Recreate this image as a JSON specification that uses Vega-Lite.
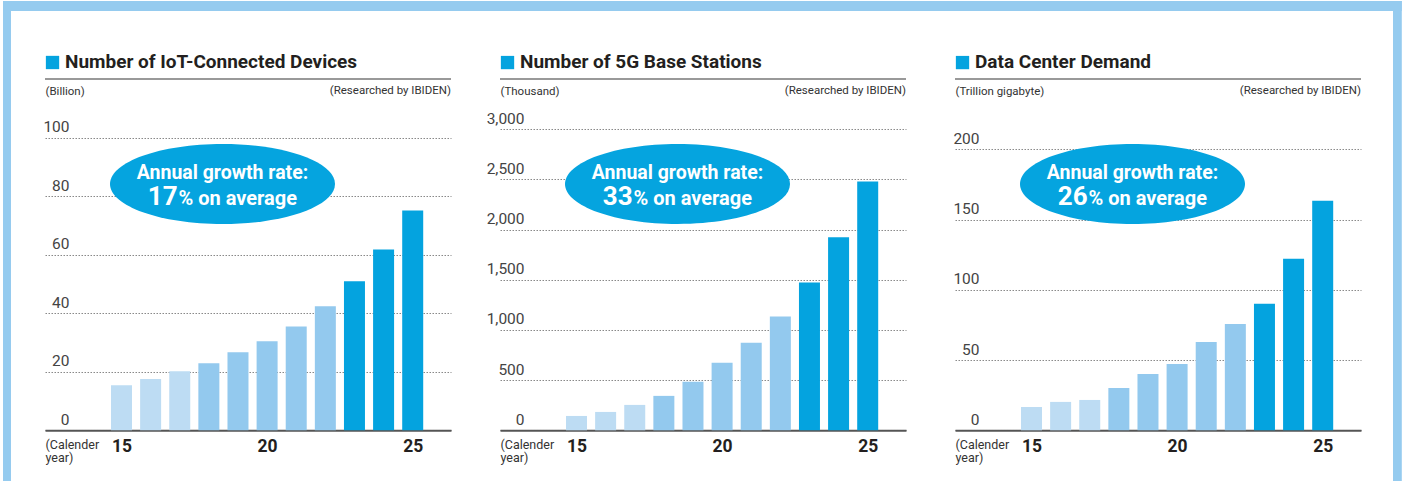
{
  "$schema": "https://vega.github.io/schema/vega-lite/v6.json",
  "background": "white",
  "padding": {"left": 3, "top": 0, "right": 0, "bottom": 0},
  "bounds": "flush",
  "spacing": 49,
  "config": {
    "view": {"stroke": null},
    "font": "Roboto",
    "axis": {"labelFont": "Roboto", "titleFont": "Roboto"},
    "text": {"font": "Roboto"}
  },
  "hconcat": [
    {
      "width": 406,
      "height": 351.3,
      "layer": [
        {
          "data": {"values": [
            {"year": 15, "value": 15.4, "stage": "a"},
            {"year": 16, "value": 17.5, "stage": "a"},
            {"year": 17, "value": 20.2, "stage": "a"},
            {"year": 18, "value": 22.9, "stage": "b"},
            {"year": 19, "value": 26.7, "stage": "b"},
            {"year": 20, "value": 30.4, "stage": "b"},
            {"year": 21, "value": 35.5, "stage": "b"},
            {"year": 22, "value": 42.4, "stage": "b"},
            {"year": 23, "value": 50.9, "stage": "c"},
            {"year": 24, "value": 61.8, "stage": "c"},
            {"year": 25, "value": 75.1, "stage": "c"}
          ]},
          "mark": {"type": "bar", "width": 21},
          "encoding": {
            "x": {"field": "year", "type": "quantitative", "scale": {"domain": [12.373, 26.315], "nice": false, "zero": false, "padding": 0},
              "axis": {"values": [15, 20, 25], "labelExpr": "format(datum.value, 'd')", "grid": false, "ticks": false, "tickSize": 0, "domainColor": "#555", "domainWidth": 2, "labelFontSize": 17.5, "labelFontWeight": "bold", "labelColor": "#231f20", "labelPadding": 7, "labelFlush": false,
                "title": ["(Calender", "year)"], "titleX": 0, "titleY": 8, "titleAlign": "left", "titleBaseline": "top", "titleFontSize": 12.5, "titleFontWeight": "normal", "titleColor": "#333", "titleLineHeight": 13.5}},
            "y": {"field": "value", "type": "quantitative", "scale": {"domain": [0, 120.06], "nice": false},
              "axis": {"values": [0, 20, 40, 60, 80, 100], "labelExpr": "format(datum.value, ',')", "grid": true, "gridDash": [1.5, 1.5], "gridColor": "#888", "domain": false, "ticks": false, "tickSize": 0, "labelAlign": "right", "labelPadding": -24, "labelBaseline": "alphabetic", "labelOffset": -6, "labelFontSize": 15.5, "labelColor": "#444",
                "title": "(Billion)", "titleX": 0, "titleY": 15.5, "titleAngle": 0, "titleAlign": "left", "titleBaseline": "alphabetic", "titleFontSize": 11.5, "titleFontWeight": "normal", "titleColor": "#333"}},
            "color": {"field": "stage", "type": "nominal", "scale": {"domain": ["a", "b", "c"], "range": ["#bddcf3", "#93c9ee", "#04a3df"]}, "legend": null}
          }
        },
        {
          "data": {"values": [{"title": "Number of IoT-Connected Devices", "note": "(Researched by IBIDEN)", "line1": "Annual growth rate:", "rate": "17", "rest": "% on average"}]},
          "layer": [
            {"mark": {"type": "rule", "color": "#777", "strokeWidth": 1.5}, "encoding": {"y": {"datum": 120.06}}},
            {"mark": {"type": "text", "align": "left", "baseline": "alphabetic", "fontSize": 19, "fontWeight": "bold", "color": "#231f20"}, "encoding": {"x": {"datum": 13.06}, "y": {"datum": 123.7}, "text": {"field": "title"}}},
            {"mark": {"type": "text", "align": "right", "baseline": "alphabetic", "fontSize": 11.5, "color": "#333"}, "encoding": {"x": {"datum": 26.315}, "y": {"datum": 114.8}, "text": {"field": "note"}}},
            {"mark": {"type": "point", "shape": "square", "filled": true, "opacity": 1, "size": 177, "color": "#04a3df"}, "encoding": {"x": {"datum": 12.631}, "y": {"datum": 125.7}}},
            {"mark": {"type": "point", "shape": "M-1,0A1,0.3556,0,1,1,1,0A1,0.3556,0,1,1,-1,0Z", "filled": true, "opacity": 1, "size": 50625, "color": "#05a4df"}, "encoding": {"x": {"datum": 18.468}, "y": {"datum": 84.18}}},
            {"mark": {"type": "text", "align": "center", "baseline": "alphabetic", "fontSize": 19.5, "fontWeight": "bold", "color": "white"}, "encoding": {"x": {"datum": 18.468}, "y": {"datum": 85.78}, "text": {"field": "line1"}}},
            {"mark": {"type": "text", "align": "right", "baseline": "alphabetic", "fontSize": 26, "fontWeight": "bold", "color": "white"}, "encoding": {"x": {"datum": 16.927}, "y": {"datum": 76.9}, "text": {"field": "rate"}}},
            {"mark": {"type": "text", "align": "left", "baseline": "alphabetic", "fontSize": 20, "fontWeight": "bold", "color": "white"}, "encoding": {"x": {"datum": 16.96}, "y": {"datum": 76.9}, "text": {"field": "rest"}}},
            {"mark": {"type": "rect", "color": "#95cbef", "opacity": 1}, "encoding": {"x": {"datum": 10.931}, "x2": {"datum": 11.205}, "y": {"datum": 146.72}, "y2": {"datum": -17.55}}},
            {"mark": {"type": "rect", "color": "#95cbef", "opacity": 1}, "encoding": {"x": {"datum": 10.931}, "x2": {"datum": 27.311}, "y": {"datum": 146.72}, "y2": {"datum": 143.3}}}
          ]
        }
      ]
    },
    {
      "width": 406,
      "height": 351.3,
      "layer": [
        {
          "data": {"values": [
            {"year": 15, "value": 143, "stage": "a"},
            {"year": 16, "value": 183, "stage": "a"},
            {"year": 17, "value": 253, "stage": "a"},
            {"year": 18, "value": 343, "stage": "b"},
            {"year": 19, "value": 483, "stage": "b"},
            {"year": 20, "value": 673, "stage": "b"},
            {"year": 21, "value": 873, "stage": "b"},
            {"year": 22, "value": 1133, "stage": "b"},
            {"year": 23, "value": 1473, "stage": "c"},
            {"year": 24, "value": 1923, "stage": "c"},
            {"year": 25, "value": 2480, "stage": "c"}
          ]},
          "mark": {"type": "bar", "width": 21},
          "encoding": {
            "x": {"field": "year", "type": "quantitative", "scale": {"domain": [12.373, 26.315], "nice": false, "zero": false, "padding": 0},
              "axis": {"values": [15, 20, 25], "labelExpr": "format(datum.value, 'd')", "grid": false, "ticks": false, "tickSize": 0, "domainColor": "#555", "domainWidth": 2, "labelFontSize": 17.5, "labelFontWeight": "bold", "labelColor": "#231f20", "labelPadding": 7, "labelFlush": false,
                "title": ["(Calender", "year)"], "titleX": 0, "titleY": 8, "titleAlign": "left", "titleBaseline": "top", "titleFontSize": 12.5, "titleFontWeight": "normal", "titleColor": "#333", "titleLineHeight": 13.5}},
            "y": {"field": "value", "type": "quantitative", "scale": {"domain": [0, 3501], "nice": false},
              "axis": {"values": [0, 500, 1000, 1500, 2000, 2500, 3000], "labelExpr": "format(datum.value, ',')", "grid": true, "gridDash": [1.5, 1.5], "gridColor": "#888", "domain": false, "ticks": false, "tickSize": 0, "labelAlign": "right", "labelPadding": -24, "labelBaseline": "alphabetic", "labelOffset": -6, "labelFontSize": 15.5, "labelColor": "#444",
                "title": "(Thousand)", "titleX": 0, "titleY": 15.5, "titleAngle": 0, "titleAlign": "left", "titleBaseline": "alphabetic", "titleFontSize": 11.5, "titleFontWeight": "normal", "titleColor": "#333"}},
            "color": {"field": "stage", "type": "nominal", "scale": {"domain": ["a", "b", "c"], "range": ["#bddcf3", "#93c9ee", "#04a3df"]}, "legend": null}
          }
        },
        {
          "data": {"values": [{"title": "Number of 5G Base Stations", "note": "(Researched by IBIDEN)", "line1": "Annual growth rate:", "rate": "33", "rest": "% on average"}]},
          "layer": [
            {"mark": {"type": "rule", "color": "#777", "strokeWidth": 1.5}, "encoding": {"y": {"datum": 3501}}},
            {"mark": {"type": "text", "align": "left", "baseline": "alphabetic", "fontSize": 19, "fontWeight": "bold", "color": "#231f20"}, "encoding": {"x": {"datum": 13.06}, "y": {"datum": 3608}, "text": {"field": "title"}}},
            {"mark": {"type": "text", "align": "right", "baseline": "alphabetic", "fontSize": 11.5, "color": "#333"}, "encoding": {"x": {"datum": 26.315}, "y": {"datum": 3347}, "text": {"field": "note"}}},
            {"mark": {"type": "point", "shape": "square", "filled": true, "opacity": 1, "size": 177, "color": "#04a3df"}, "encoding": {"x": {"datum": 12.631}, "y": {"datum": 3665}}},
            {"mark": {"type": "point", "shape": "M-1,0A1,0.3556,0,1,1,1,0A1,0.3556,0,1,1,-1,0Z", "filled": true, "opacity": 1, "size": 50625, "color": "#05a4df"}, "encoding": {"x": {"datum": 18.468}, "y": {"datum": 2455}}},
            {"mark": {"type": "text", "align": "center", "baseline": "alphabetic", "fontSize": 19.5, "fontWeight": "bold", "color": "white"}, "encoding": {"x": {"datum": 18.468}, "y": {"datum": 2502}, "text": {"field": "line1"}}},
            {"mark": {"type": "text", "align": "right", "baseline": "alphabetic", "fontSize": 26, "fontWeight": "bold", "color": "white"}, "encoding": {"x": {"datum": 16.927}, "y": {"datum": 2243}, "text": {"field": "rate"}}},
            {"mark": {"type": "text", "align": "left", "baseline": "alphabetic", "fontSize": 20, "fontWeight": "bold", "color": "white"}, "encoding": {"x": {"datum": 16.96}, "y": {"datum": 2243}, "text": {"field": "rest"}}},
            {"mark": {"type": "rect", "color": "#95cbef", "opacity": 1}, "encoding": {"x": {"datum": 11.343}, "x2": {"datum": 27.311}, "y": {"datum": 4278.9}, "y2": {"datum": 4179.2}}}
          ]
        }
      ]
    },
    {
      "width": 406,
      "height": 351.3,
      "layer": [
        {
          "data": {"values": [
            {"year": 15, "value": 16.6, "stage": "a"},
            {"year": 16, "value": 20.2, "stage": "a"},
            {"year": 17, "value": 21.6, "stage": "a"},
            {"year": 18, "value": 30.1, "stage": "b"},
            {"year": 19, "value": 40.1, "stage": "b"},
            {"year": 20, "value": 47.2, "stage": "b"},
            {"year": 21, "value": 62.9, "stage": "b"},
            {"year": 22, "value": 75.7, "stage": "b"},
            {"year": 23, "value": 90.0, "stage": "c"},
            {"year": 24, "value": 122.0, "stage": "c"},
            {"year": 25, "value": 163.3, "stage": "c"}
          ]},
          "mark": {"type": "bar", "width": 21},
          "encoding": {
            "x": {"field": "year", "type": "quantitative", "scale": {"domain": [12.373, 26.315], "nice": false, "zero": false, "padding": 0},
              "axis": {"values": [15, 20, 25], "labelExpr": "format(datum.value, 'd')", "grid": false, "ticks": false, "tickSize": 0, "domainColor": "#555", "domainWidth": 2, "labelFontSize": 17.5, "labelFontWeight": "bold", "labelColor": "#231f20", "labelPadding": 7, "labelFlush": false,
                "title": ["(Calender", "year)"], "titleX": 0, "titleY": 8, "titleAlign": "left", "titleBaseline": "top", "titleFontSize": 12.5, "titleFontWeight": "normal", "titleColor": "#333", "titleLineHeight": 13.5}},
            "y": {"field": "value", "type": "quantitative", "scale": {"domain": [0, 250.0], "nice": false},
              "axis": {"values": [0, 50, 100, 150, 200], "labelExpr": "format(datum.value, ',')", "grid": true, "gridDash": [1.5, 1.5], "gridColor": "#888", "domain": false, "ticks": false, "tickSize": 0, "labelAlign": "right", "labelPadding": -24, "labelBaseline": "alphabetic", "labelOffset": -6, "labelFontSize": 15.5, "labelColor": "#444",
                "title": "(Trillion gigabyte)", "titleX": 0, "titleY": 15.5, "titleAngle": 0, "titleAlign": "left", "titleBaseline": "alphabetic", "titleFontSize": 11.5, "titleFontWeight": "normal", "titleColor": "#333"}},
            "color": {"field": "stage", "type": "nominal", "scale": {"domain": ["a", "b", "c"], "range": ["#bddcf3", "#93c9ee", "#04a3df"]}, "legend": null}
          }
        },
        {
          "data": {"values": [{"title": "Data Center Demand", "note": "(Researched by IBIDEN)", "line1": "Annual growth rate:", "rate": "26", "rest": "% on average"}]},
          "layer": [
            {"mark": {"type": "rule", "color": "#777", "strokeWidth": 1.5}, "encoding": {"y": {"datum": 250.0}}},
            {"mark": {"type": "text", "align": "left", "baseline": "alphabetic", "fontSize": 19, "fontWeight": "bold", "color": "#231f20"}, "encoding": {"x": {"datum": 13.06}, "y": {"datum": 257.7}, "text": {"field": "title"}}},
            {"mark": {"type": "text", "align": "right", "baseline": "alphabetic", "fontSize": 11.5, "color": "#333"}, "encoding": {"x": {"datum": 26.315}, "y": {"datum": 239.0}, "text": {"field": "note"}}},
            {"mark": {"type": "point", "shape": "square", "filled": true, "opacity": 1, "size": 177, "color": "#04a3df"}, "encoding": {"x": {"datum": 12.631}, "y": {"datum": 261.7}}},
            {"mark": {"type": "point", "shape": "M-1,0A1,0.3556,0,1,1,1,0A1,0.3556,0,1,1,-1,0Z", "filled": true, "opacity": 1, "size": 50625, "color": "#05a4df"}, "encoding": {"x": {"datum": 18.468}, "y": {"datum": 175.3}}},
            {"mark": {"type": "text", "align": "center", "baseline": "alphabetic", "fontSize": 19.5, "fontWeight": "bold", "color": "white"}, "encoding": {"x": {"datum": 18.468}, "y": {"datum": 178.6}, "text": {"field": "line1"}}},
            {"mark": {"type": "text", "align": "right", "baseline": "alphabetic", "fontSize": 26, "fontWeight": "bold", "color": "white"}, "encoding": {"x": {"datum": 16.927}, "y": {"datum": 160.1}, "text": {"field": "rate"}}},
            {"mark": {"type": "text", "align": "left", "baseline": "alphabetic", "fontSize": 20, "fontWeight": "bold", "color": "white"}, "encoding": {"x": {"datum": 16.96}, "y": {"datum": 160.1}, "text": {"field": "rest"}}},
            {"mark": {"type": "rect", "color": "#95cbef", "opacity": 1}, "encoding": {"x": {"datum": 11.343}, "x2": {"datum": 27.716}, "y": {"datum": 305.55}, "y2": {"datum": 298.43}}},
            {"mark": {"type": "rect", "color": "#95cbef", "opacity": 1}, "encoding": {"x": {"datum": 27.414}, "x2": {"datum": 27.716}, "y": {"datum": 305.55}, "y2": {"datum": -36.6}}}
          ]
        }
      ]
    }
  ]
}
